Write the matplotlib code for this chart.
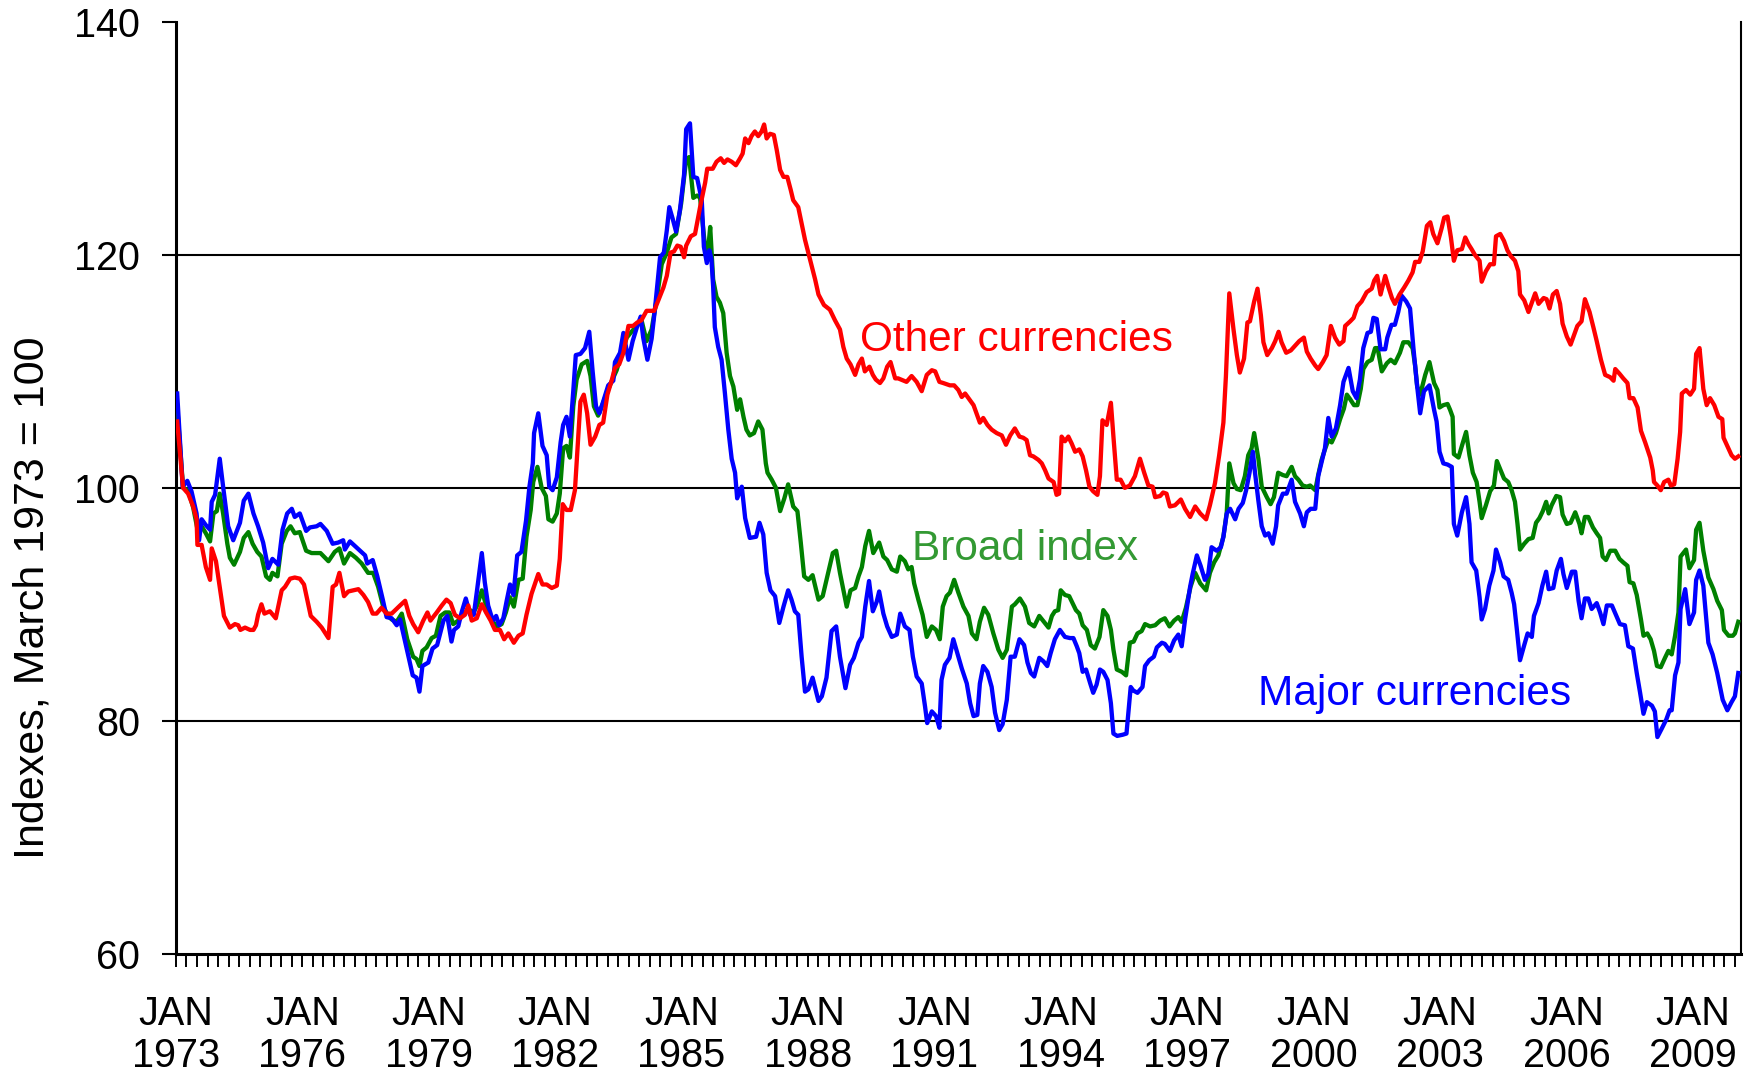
import matplotlib
matplotlib.use("Agg")
import matplotlib.pyplot as plt
import numpy as np

plt.rcParams["font.family"] = ["Liberation Sans", "DejaVu Sans"]

# Major currencies (blue): (year, index)
major_t = [
    1973.03, 1973.16, 1973.27, 1973.37, 1973.49, 1973.55, 1973.61, 1973.71, 1973.81, 1973.85,
    1973.93, 1974.04, 1974.12, 1974.24, 1974.36, 1974.52, 1974.61, 1974.72, 1974.84, 1974.95,
    1975.07, 1975.19, 1975.29, 1975.43, 1975.53, 1975.64, 1975.75, 1975.82, 1975.94, 1976.09,
    1976.18, 1976.34, 1976.43, 1976.58, 1976.72, 1976.85, 1976.97, 1977.01, 1977.13, 1977.25,
    1977.37, 1977.49, 1977.54, 1977.67, 1977.78, 1977.91, 1978.00, 1978.12, 1978.24, 1978.32,
    1978.49, 1978.62, 1978.71, 1978.78, 1978.85, 1978.99, 1979.09, 1979.20, 1979.35, 1979.44,
    1979.54, 1979.60, 1979.70, 1979.78, 1979.88, 1979.98, 1980.07, 1980.15, 1980.26, 1980.33,
    1980.41, 1980.52, 1980.60, 1980.67, 1980.77, 1980.85, 1980.93, 1981.01, 1981.10, 1981.20,
    1981.31, 1981.39, 1981.47, 1981.50, 1981.60, 1981.70, 1981.80, 1981.86, 1981.94, 1982.04,
    1982.13, 1982.19, 1982.27, 1982.35, 1982.43, 1982.49, 1982.60, 1982.71, 1982.81, 1982.89,
    1982.97, 1983.05, 1983.14, 1983.26, 1983.38, 1983.42, 1983.54, 1983.62, 1983.74, 1983.84,
    1983.95, 1984.03, 1984.09, 1984.19, 1984.29, 1984.37, 1984.49, 1984.58, 1984.65, 1984.71,
    1984.79, 1984.87, 1984.96, 1985.06, 1985.11, 1985.20, 1985.28, 1985.37, 1985.44, 1985.48,
    1985.53, 1985.60, 1985.66, 1985.71, 1985.75, 1985.79, 1985.87, 1985.95, 1986.03, 1986.11,
    1986.19, 1986.27, 1986.32, 1986.43, 1986.51, 1986.62, 1986.77, 1986.85, 1986.94, 1987.02,
    1987.11, 1987.22, 1987.32, 1987.42, 1987.53, 1987.61, 1987.69, 1987.77, 1987.85, 1987.93,
    1988.01, 1988.11, 1988.25, 1988.33, 1988.44, 1988.56, 1988.67, 1988.76, 1988.89, 1989.00,
    1989.09, 1989.20, 1989.28, 1989.36, 1989.45, 1989.54, 1989.63, 1989.69, 1989.79, 1989.88,
    1989.99, 1990.11, 1990.19, 1990.30, 1990.41, 1990.49, 1990.58, 1990.70, 1990.78, 1990.83,
    1990.94, 1991.04, 1991.12, 1991.17, 1991.25, 1991.36, 1991.45, 1991.53, 1991.65, 1991.77,
    1991.85, 1991.93, 1992.02, 1992.08, 1992.16, 1992.26, 1992.36, 1992.44, 1992.54, 1992.62,
    1992.72, 1992.81, 1992.91, 1993.02, 1993.13, 1993.21, 1993.29, 1993.37, 1993.49, 1993.59,
    1993.68, 1993.76, 1993.86, 1993.98, 1994.10, 1994.22, 1994.30, 1994.38, 1994.44, 1994.52,
    1994.60, 1994.70, 1994.77, 1994.85, 1994.93, 1995.01, 1995.11, 1995.19, 1995.25, 1995.34,
    1995.47, 1995.56, 1995.66, 1995.72, 1995.82, 1995.94, 1996.00, 1996.10, 1996.21, 1996.28,
    1996.40, 1996.47, 1996.59, 1996.69, 1996.79, 1996.87, 1996.95, 1997.07, 1997.13, 1997.23,
    1997.32, 1997.42, 1997.50, 1997.58, 1997.70, 1997.80, 1997.86, 1997.94, 1998.02, 1998.14,
    1998.22, 1998.32, 1998.40, 1998.48, 1998.56, 1998.61, 1998.69, 1998.77, 1998.85, 1998.93,
    1999.03, 1999.11, 1999.16, 1999.27, 1999.36, 1999.48, 1999.56, 1999.68, 1999.77, 1999.84,
    1999.93, 2000.04, 2000.11, 2000.19, 2000.27, 2000.35, 2000.43, 2000.53, 2000.63, 2000.71,
    2000.83, 2000.93, 2001.02, 2001.10, 2001.18, 2001.28, 2001.36, 2001.42, 2001.50, 2001.59,
    2001.70, 2001.75, 2001.85, 2001.93, 2002.01, 2002.09, 2002.20, 2002.29, 2002.37, 2002.45,
    2002.53, 2002.62, 2002.75, 2002.86, 2002.92, 2002.99, 2003.08, 2003.18, 2003.28, 2003.33,
    2003.41, 2003.52, 2003.62, 2003.70, 2003.75, 2003.86, 2003.94, 2003.99, 2004.07, 2004.17,
    2004.27, 2004.33, 2004.43, 2004.51, 2004.62, 2004.70, 2004.76, 2004.82, 2004.90, 2005.00,
    2005.08, 2005.18, 2005.23, 2005.34, 2005.43, 2005.52, 2005.58, 2005.69, 2005.77, 2005.87,
    2005.93, 2006.01, 2006.13, 2006.21, 2006.29, 2006.36, 2006.44, 2006.52, 2006.60, 2006.72,
    2006.80, 2006.88, 2006.96, 2007.08, 2007.20, 2007.27, 2007.39, 2007.47, 2007.58, 2007.67,
    2007.75, 2007.83, 2007.91, 2008.03, 2008.10, 2008.16, 2008.26, 2008.37, 2008.45, 2008.50,
    2008.58, 2008.66, 2008.71, 2008.82, 2008.92, 2009.03, 2009.08, 2009.16, 2009.25, 2009.37,
    2009.47, 2009.58, 2009.71, 2009.82, 2009.92, 2010.00, 2010.08,
]
major_v = [
    108.1, 100.1, 100.6, 99.7, 97.8, 95.5, 97.3, 96.8, 96.4, 98.8,
    99.4, 102.5, 100.1, 96.7, 95.5, 97.0, 98.9, 99.5, 97.8, 96.7,
    95.3, 93.1, 93.9, 93.4, 96.4, 97.8, 98.2, 97.5, 97.8, 96.3,
    96.6, 96.7, 96.9, 96.3, 95.2, 95.3, 95.5, 94.7, 95.4, 95.0,
    94.6, 94.2, 93.5, 93.8, 92.4, 90.4, 88.9, 88.8, 88.2, 88.7,
    86.0, 83.9, 83.7, 82.5, 84.7, 85.0, 86.2, 86.5, 88.6, 89.0,
    86.8, 87.8, 88.1, 89.3, 90.5, 89.1, 89.1, 91.3, 94.4, 91.9,
    89.9, 88.6, 89.0, 88.2, 88.8, 90.3, 91.7, 90.8, 94.2, 94.5,
    97.2, 100.1, 102.1, 104.7, 106.4, 103.6, 102.8, 100.1, 99.8, 100.9,
    103.9, 105.4, 106.1, 104.4, 108.3, 111.4, 111.5, 112.0, 113.4, 110.0,
    107.0, 106.4, 107.4, 108.8, 109.2, 110.8, 111.6, 113.3, 111.0, 112.6,
    113.9, 114.7, 112.9, 111.0, 112.8, 115.4, 119.8, 120.2, 122.1, 124.1,
    123.1, 122.0, 123.8, 126.9, 130.8, 131.3, 126.7, 126.6, 125.4, 124.7,
    120.7, 119.3, 120.4, 119.6, 117.3, 113.8, 112.1, 111.0, 108.1, 105.0,
    102.5, 101.3, 99.1, 100.1, 97.4, 95.7, 95.8, 97.0, 96.0, 92.7,
    91.2, 90.7, 88.4, 89.8, 91.2, 90.4, 89.4, 89.1, 85.5, 82.5,
    82.7, 83.7, 81.7, 82.1, 83.7, 87.7, 88.1, 85.5, 82.8, 84.8,
    85.4, 86.7, 87.2, 89.8, 92.0, 89.4, 90.2, 91.1, 89.2, 88.1,
    87.2, 87.4, 89.2, 88.1, 87.8, 85.5, 83.8, 83.2, 81.2, 79.8,
    80.8, 80.4, 79.4, 83.5, 84.8, 85.4, 87.0, 86.0, 84.5, 83.2,
    81.5, 80.4, 80.5, 83.2, 84.7, 84.2, 82.9, 80.7, 79.2, 79.7,
    81.8, 85.5, 85.5, 87.0, 86.5, 85.0, 84.1, 83.8, 85.4, 85.1,
    84.7, 85.8, 87.0, 87.8, 87.2, 87.1, 87.1, 86.4, 85.8, 84.2,
    84.4, 83.2, 82.4, 83.1, 84.4, 84.2, 83.5, 81.5, 78.9, 78.7,
    78.8, 78.9, 82.9, 82.6, 82.4, 82.9, 84.7, 85.2, 85.5, 86.3,
    86.7, 86.6, 86.0, 86.9, 87.4, 86.4, 88.7, 91.5, 92.6, 94.2,
    93.3, 92.1, 92.6, 94.9, 94.6, 94.9, 95.8, 97.8, 98.2, 97.3,
    98.2, 98.7, 99.8, 101.3, 103.1, 101.3, 98.9, 96.7, 95.9, 96.1,
    95.2, 96.7, 98.5, 99.5, 99.5, 100.7, 98.8, 97.8, 96.7, 97.9,
    98.2, 98.2, 101.0, 102.2, 103.4, 106.0, 104.4, 105.1, 107.1, 109.1,
    110.3, 108.3, 107.7, 109.3, 112.0, 113.3, 113.4, 114.6, 114.5, 111.9,
    111.9, 112.9, 114.0, 114.0, 115.1, 116.5, 116.0, 115.4, 112.0, 109.0,
    106.4, 108.3, 108.8, 106.7, 105.7, 103.1, 102.1, 102.0, 101.8, 96.9,
    95.9, 97.9, 99.2, 96.9, 93.6, 92.9, 90.6, 88.7, 89.6, 91.6,
    92.9, 94.7, 93.6, 92.4, 92.1, 91.0, 90.0, 88.0, 85.2, 86.5,
    87.5, 87.2, 89.0, 90.1, 91.6, 92.8, 91.3, 91.4, 92.9, 93.9,
    92.6, 91.4, 92.8, 92.8, 90.3, 88.8, 90.5, 90.5, 89.6, 90.1,
    89.3, 88.3, 89.9, 89.9, 88.9, 88.3, 88.2, 86.4, 86.2, 84.1,
    82.4, 80.6, 81.6, 81.3, 80.8, 78.6, 79.3, 80.1, 80.9, 80.9,
    83.9, 85.0, 89.6, 91.3, 88.3, 89.3, 92.1, 92.9, 91.6, 86.7,
    85.7, 84.1, 81.8, 80.9, 81.6, 82.1, 84.1,
]

# Broad index (green)
broad_t = [
    1973.03, 1973.17, 1973.29, 1973.41, 1973.53, 1973.61, 1973.71, 1973.81, 1973.89, 1973.97,
    1974.04, 1974.12, 1974.22, 1974.28, 1974.38, 1974.52, 1974.61, 1974.72, 1974.82, 1974.93,
    1975.03, 1975.14, 1975.23, 1975.29, 1975.41, 1975.51, 1975.63, 1975.72, 1975.82, 1975.94,
    1976.09, 1976.22, 1976.43, 1976.62, 1976.77, 1976.88, 1976.99, 1977.13, 1977.27, 1977.41,
    1977.56, 1977.68, 1977.80, 1977.92, 1978.04, 1978.12, 1978.24, 1978.36, 1978.49, 1978.63,
    1978.71, 1978.78, 1978.85, 1978.95, 1979.07, 1979.17, 1979.28, 1979.39, 1979.49, 1979.58,
    1979.70, 1979.82, 1979.94, 1980.06, 1980.15, 1980.26, 1980.33, 1980.41, 1980.52, 1980.63,
    1980.73, 1980.83, 1980.93, 1981.02, 1981.13, 1981.23, 1981.32, 1981.42, 1981.48, 1981.58,
    1981.68, 1981.78, 1981.84, 1981.94, 1982.04, 1982.11, 1982.19, 1982.27, 1982.35, 1982.43,
    1982.51, 1982.63, 1982.76, 1982.84, 1982.92, 1983.02, 1983.13, 1983.24, 1983.36, 1983.46,
    1983.58, 1983.70, 1983.79, 1983.93, 1984.05, 1984.17, 1984.29, 1984.41, 1984.53, 1984.65,
    1984.76, 1984.87, 1984.99, 1985.11, 1985.18, 1985.28, 1985.37, 1985.44, 1985.55, 1985.62,
    1985.68, 1985.75, 1985.83, 1985.91, 1985.99, 1986.07, 1986.15, 1986.23, 1986.32, 1986.39,
    1986.47, 1986.54, 1986.62, 1986.72, 1986.82, 1986.92, 1987.00, 1987.04, 1987.14, 1987.24,
    1987.34, 1987.44, 1987.53, 1987.65, 1987.75, 1987.83, 1987.91, 1988.01, 1988.11, 1988.25,
    1988.35, 1988.48, 1988.59, 1988.67, 1988.76, 1988.92, 1989.01, 1989.12, 1989.20, 1989.28,
    1989.36, 1989.45, 1989.55, 1989.69, 1989.79, 1989.88, 1989.99, 1990.11, 1990.19, 1990.30,
    1990.38, 1990.46, 1990.52, 1990.62, 1990.72, 1990.82, 1990.94, 1991.04, 1991.13, 1991.20,
    1991.29, 1991.37, 1991.47, 1991.57, 1991.69, 1991.81, 1991.89, 1992.00, 1992.08, 1992.18,
    1992.28, 1992.40, 1992.52, 1992.62, 1992.72, 1992.84, 1992.91, 1993.03, 1993.15, 1993.25,
    1993.37, 1993.49, 1993.60, 1993.71, 1993.79, 1993.86, 1993.94, 1994.00, 1994.10, 1994.20,
    1994.28, 1994.36, 1994.44, 1994.52, 1994.62, 1994.71, 1994.81, 1994.92, 1995.01, 1995.11,
    1995.19, 1995.25, 1995.33, 1995.45, 1995.55, 1995.64, 1995.73, 1995.82, 1995.92, 1996.00,
    1996.12, 1996.24, 1996.36, 1996.47, 1996.58, 1996.69, 1996.79, 1996.87, 1996.97, 1997.08,
    1997.19, 1997.31, 1997.45, 1997.54, 1997.64, 1997.74, 1997.86, 1997.94, 1998.00, 1998.10,
    1998.18, 1998.27, 1998.37, 1998.45, 1998.53, 1998.59, 1998.69, 1998.77, 1998.89, 1998.98,
    1999.06, 1999.16, 1999.27, 1999.36, 1999.48, 1999.56, 1999.64, 1999.74, 1999.84, 1999.92,
    2000.04, 2000.11, 2000.19, 2000.27, 2000.35, 2000.43, 2000.53, 2000.63, 2000.72, 2000.79,
    2000.87, 2000.96, 2001.04, 2001.12, 2001.18, 2001.28, 2001.38, 2001.46, 2001.52, 2001.62,
    2001.74, 2001.83, 2001.93, 2002.05, 2002.13, 2002.25, 2002.35, 2002.41, 2002.46, 2002.53,
    2002.65, 2002.75, 2002.86, 2002.94, 2002.99, 2003.08, 2003.18, 2003.24, 2003.30, 2003.33,
    2003.44, 2003.52, 2003.62, 2003.70, 2003.78, 2003.87, 2003.94, 2003.99, 2004.09, 2004.19,
    2004.28, 2004.35, 2004.43, 2004.52, 2004.62, 2004.70, 2004.78, 2004.84, 2004.90, 2005.00,
    2005.10, 2005.20, 2005.28, 2005.36, 2005.44, 2005.52, 2005.58, 2005.65, 2005.76, 2005.85,
    2005.91, 2006.01, 2006.10, 2006.21, 2006.31, 2006.36, 2006.44, 2006.52, 2006.63, 2006.72,
    2006.80, 2006.86, 2006.94, 2007.04, 2007.16, 2007.26, 2007.35, 2007.45, 2007.50, 2007.59,
    2007.67, 2007.77, 2007.83, 2007.92, 2008.00, 2008.08, 2008.15, 2008.24, 2008.34, 2008.42,
    2008.50, 2008.58, 2008.66, 2008.71, 2008.84, 2008.92, 2009.03, 2009.08, 2009.16, 2009.25,
    2009.37, 2009.49, 2009.58, 2009.69, 2009.74, 2009.85, 2009.95, 2010.00, 2010.08,
]
broad_v = [
    107.0, 100.0, 99.8, 98.3, 96.1, 96.7, 96.1, 95.4, 97.8, 98.0,
    99.5, 97.8, 95.2, 94.0, 93.4, 94.5, 95.7, 96.2, 95.2, 94.5,
    94.1, 92.4, 92.1, 92.7, 92.4, 95.2, 96.3, 96.7, 96.1, 96.2,
    94.6, 94.4, 94.4, 93.7, 94.5, 94.8, 93.5, 94.4, 94.0, 93.5,
    92.7, 92.7, 91.5, 89.8, 89.0, 88.7, 88.5, 89.2, 87.0, 85.5,
    85.3, 84.7, 86.0, 86.3, 87.1, 87.3, 89.0, 89.3, 89.3, 88.3,
    88.6, 89.1, 89.6, 89.3, 89.9, 91.2, 90.3, 89.3, 88.5, 88.1,
    88.3, 89.3, 90.6, 89.8, 92.1, 92.2, 95.8, 98.1, 100.5, 101.8,
    100.0, 99.3, 97.3, 97.1, 97.8, 99.5, 103.4, 103.6, 102.6, 107.0,
    109.3, 110.6, 110.9, 109.6, 107.0, 106.2, 107.2, 108.3, 109.3, 110.1,
    111.6, 112.9, 113.3, 113.9, 114.4, 112.6, 113.6, 116.2, 119.2, 120.2,
    121.5, 121.8, 124.4, 128.2, 128.4, 124.9, 125.1, 124.9, 121.0, 120.0,
    122.4, 117.9, 116.4, 115.9, 115.0, 111.6, 109.6, 108.7, 106.7, 107.6,
    106.1, 105.0, 104.5, 104.7, 105.7, 105.0, 102.1, 101.3, 100.7, 100.0,
    98.0, 99.1, 100.3, 98.4, 98.0, 95.3, 92.4, 92.1, 92.5, 90.4,
    90.7, 92.7, 94.4, 94.6, 92.7, 89.8, 91.2, 91.4, 92.4, 93.2,
    95.0, 96.3, 94.4, 95.3, 94.1, 93.8, 93.0, 92.8, 94.1, 93.7,
    93.0, 93.2, 91.8, 90.4, 89.1, 87.2, 88.1, 87.8, 87.0, 89.8,
    90.7, 91.0, 92.1, 91.0, 89.8, 89.0, 87.5, 87.0, 88.5, 89.7,
    89.1, 87.5, 86.1, 85.4, 86.1, 89.8, 90.0, 90.5, 89.8, 88.4,
    88.1, 89.0, 88.5, 88.0, 89.0, 89.4, 89.5, 91.2, 90.8, 90.7,
    90.1, 89.5, 89.2, 88.2, 87.8, 86.5, 86.2, 87.2, 89.5, 89.0,
    87.8, 86.1, 84.4, 84.2, 83.9, 86.7, 86.8, 87.5, 87.7, 88.3,
    88.1, 88.2, 88.6, 88.8, 88.1, 88.6, 88.9, 88.5, 89.7, 91.5,
    92.7, 91.8, 91.2, 92.7, 93.6, 94.2, 95.8, 97.9, 102.1, 100.4,
    99.9, 99.8, 101.0, 102.8, 103.4, 104.7, 102.5, 100.1, 99.2, 98.6,
    99.2, 101.3, 101.1, 101.0, 101.8, 101.0, 100.7, 100.2, 100.1, 100.2,
    99.8, 101.1, 102.4, 103.3, 104.1, 103.9, 104.7, 105.9, 106.8, 108.0,
    107.6, 107.1, 107.1, 108.5, 110.2, 110.8, 111.0, 112.0, 112.0, 110.0,
    110.7, 111.0, 110.7, 111.6, 112.5, 112.5, 112.0, 110.5, 108.7, 108.0,
    109.7, 110.8, 109.0, 108.4, 106.9, 107.1, 107.2, 106.7, 106.1, 102.9,
    102.6, 103.6, 104.8, 102.8, 101.3, 100.5, 98.8, 97.4, 98.5, 99.7,
    100.2, 102.3, 101.6, 100.8, 100.5, 99.8, 98.8, 96.9, 94.7, 95.2,
    95.6, 95.7, 97.0, 97.4, 98.0, 98.8, 97.8, 98.5, 99.3, 99.2,
    97.7, 96.9, 97.0, 97.9, 96.9, 96.1, 97.5, 97.5, 96.6, 96.1,
    95.7, 94.1, 93.8, 94.6, 94.6, 93.9, 93.6, 93.3, 91.9, 91.8,
    90.8, 88.7, 87.3, 87.5, 87.0, 86.0, 84.7, 84.6, 85.4, 86.0,
    85.7, 87.3, 89.3, 94.1, 94.7, 93.1, 93.8, 96.4, 97.0, 94.6,
    92.3, 91.3, 90.3, 89.5, 87.8, 87.3, 87.3, 87.5, 88.5,
]

# Other important trading partners (red)
other_t = [
    1973.03, 1973.17, 1973.29, 1973.41, 1973.49, 1973.51, 1973.61, 1973.71, 1973.81, 1973.85,
    1973.95, 1974.04, 1974.14, 1974.28, 1974.40, 1974.48, 1974.53, 1974.64, 1974.76, 1974.84,
    1974.90, 1974.95, 1975.03, 1975.10, 1975.23, 1975.37, 1975.51, 1975.59, 1975.71, 1975.82,
    1975.94, 1976.04, 1976.10, 1976.20, 1976.34, 1976.46, 1976.62, 1976.72, 1976.80, 1976.88,
    1976.99, 1977.09, 1977.21, 1977.33, 1977.45, 1977.56, 1977.67, 1977.76, 1977.88, 1978.00,
    1978.12, 1978.32, 1978.44, 1978.54, 1978.63, 1978.75, 1978.87, 1978.97, 1979.04, 1979.19,
    1979.31, 1979.42, 1979.52, 1979.62, 1979.74, 1979.86, 1979.94, 1980.02, 1980.14, 1980.26,
    1980.36, 1980.47, 1980.57, 1980.69, 1980.79, 1980.89, 1981.02, 1981.13, 1981.23, 1981.32,
    1981.44, 1981.60, 1981.70, 1981.80, 1981.92, 1982.04, 1982.11, 1982.18, 1982.27, 1982.37,
    1982.47, 1982.55, 1982.60, 1982.68, 1982.76, 1982.84, 1982.95, 1983.05, 1983.14, 1983.24,
    1983.34, 1983.42, 1983.52, 1983.62, 1983.74, 1983.85, 1983.95, 1984.05, 1984.17, 1984.35,
    1984.45, 1984.57, 1984.65, 1984.74, 1984.82, 1984.90, 1984.98, 1985.06, 1985.11, 1985.22,
    1985.32, 1985.44, 1985.56, 1985.61, 1985.74, 1985.83, 1985.93, 1986.01, 1986.09, 1986.19,
    1986.29, 1986.39, 1986.45, 1986.51, 1986.59, 1986.66, 1986.74, 1986.82, 1986.90, 1986.96,
    1987.02, 1987.10, 1987.19, 1987.26, 1987.34, 1987.42, 1987.51, 1987.59, 1987.65, 1987.77,
    1987.85, 1987.93, 1988.05, 1988.17, 1988.25, 1988.38, 1988.52, 1988.64, 1988.76, 1988.84,
    1988.92, 1989.01, 1989.12, 1989.20, 1989.28, 1989.35, 1989.46, 1989.54, 1989.61, 1989.71,
    1989.79, 1989.88, 1989.96, 1990.07, 1990.14, 1990.34, 1990.46, 1990.58, 1990.70, 1990.82,
    1990.94, 1991.02, 1991.12, 1991.21, 1991.37, 1991.47, 1991.57, 1991.65, 1991.73, 1991.83,
    1991.93, 1992.00, 1992.08, 1992.16, 1992.26, 1992.36, 1992.48, 1992.60, 1992.70, 1992.80,
    1992.91, 1993.02, 1993.11, 1993.19, 1993.27, 1993.35, 1993.47, 1993.55, 1993.63, 1993.71,
    1993.83, 1993.90, 1993.96, 1994.02, 1994.10, 1994.18, 1994.26, 1994.34, 1994.44, 1994.52,
    1994.60, 1994.68, 1994.77, 1994.87, 1994.93, 1994.99, 1995.09, 1995.19, 1995.25, 1995.33,
    1995.42, 1995.52, 1995.64, 1995.76, 1995.88, 1995.98, 1996.08, 1996.18, 1996.24, 1996.36,
    1996.43, 1996.51, 1996.59, 1996.71, 1996.85, 1996.95, 1997.07, 1997.19, 1997.31, 1997.45,
    1997.54, 1997.66, 1997.76, 1997.86, 1997.92, 1998.00, 1998.10, 1998.18, 1998.25, 1998.35,
    1998.43, 1998.49, 1998.59, 1998.67, 1998.75, 1998.81, 1998.90, 1999.01, 1999.09, 1999.17,
    1999.24, 1999.35, 1999.46, 1999.56, 1999.66, 1999.77, 1999.84, 1999.93, 2000.04, 2000.11,
    2000.22, 2000.31, 2000.41, 2000.51, 2000.61, 2000.71, 2000.75, 2000.87, 2000.95, 2001.04,
    2001.14, 2001.26, 2001.38, 2001.44, 2001.51, 2001.59, 2001.70, 2001.78, 2001.86, 2001.93,
    2002.04, 2002.15, 2002.25, 2002.35, 2002.41, 2002.51, 2002.59, 2002.69, 2002.77, 2002.84,
    2002.94, 2003.04, 2003.10, 2003.18, 2003.26, 2003.33, 2003.41, 2003.52, 2003.60, 2003.68,
    2003.75, 2003.83, 2003.94, 2003.99, 2004.09, 2004.19, 2004.28, 2004.33, 2004.43, 2004.52,
    2004.60, 2004.68, 2004.78, 2004.86, 2004.90, 2005.00, 2005.10, 2005.18, 2005.26, 2005.34,
    2005.46, 2005.53, 2005.60, 2005.68, 2005.77, 2005.85, 2005.91, 2006.01, 2006.10, 2006.18,
    2006.26, 2006.36, 2006.44, 2006.55, 2006.64, 2006.72, 2006.82, 2006.92, 2007.04, 2007.12,
    2007.16, 2007.26, 2007.35, 2007.45, 2007.50, 2007.59, 2007.69, 2007.77, 2007.87, 2007.99,
    2008.05, 2008.08, 2008.16, 2008.24, 2008.32, 2008.42, 2008.48, 2008.56, 2008.64, 2008.70,
    2008.74, 2008.84, 2008.94, 2009.03, 2009.08, 2009.16, 2009.25, 2009.33, 2009.41, 2009.51,
    2009.61, 2009.70, 2009.73, 2009.82, 2009.92, 2010.00, 2010.08,
]
other_v = [
    105.7, 100.0, 99.5, 98.4, 97.3, 95.1, 95.1, 93.2, 92.1, 94.8,
    93.7, 91.5, 89.0, 88.0, 88.3, 88.2, 87.8, 88.0, 87.8, 87.8,
    88.2, 89.1, 90.0, 89.2, 89.4, 88.8, 91.2, 91.5, 92.2, 92.3,
    92.2, 91.7, 90.7, 89.0, 88.5, 88.0, 87.1, 91.5, 91.7, 92.7,
    90.7, 91.1, 91.2, 91.3, 90.8, 90.2, 89.2, 89.2, 89.7, 89.2,
    89.2, 89.9, 90.3, 89.0, 88.3, 87.6, 88.6, 89.3, 88.6, 89.3,
    89.9, 90.4, 90.1, 89.1, 88.8, 89.1, 89.9, 88.6, 88.8, 90.0,
    89.3, 88.6, 87.8, 87.8, 87.0, 87.5, 86.7, 87.3, 87.5, 89.1,
    90.9, 92.6, 91.7, 91.7, 91.4, 91.6, 93.9, 98.6, 98.1, 98.1,
    99.8, 104.4, 107.4, 108.0, 106.4, 103.7, 104.4, 105.4, 105.6, 108.0,
    109.2, 110.3, 110.6, 111.6, 113.9, 113.9, 114.2, 114.4, 115.2, 115.2,
    116.1, 117.2, 118.2, 120.2, 120.3, 120.8, 120.7, 119.8, 120.8, 121.6,
    121.8, 124.1, 126.2, 127.4, 127.4, 128.0, 128.3, 127.9, 128.2, 128.0,
    127.7, 128.3, 128.7, 130.0, 129.6, 130.2, 130.6, 130.2, 130.6, 131.2,
    130.0, 130.4, 130.3, 129.0, 127.3, 126.7, 126.7, 125.6, 124.7, 124.1,
    122.7, 121.3, 119.6, 117.9, 116.6, 115.7, 115.3, 114.4, 113.6, 112.1,
    111.1, 110.6, 109.7, 110.6, 111.1, 110.0, 110.4, 109.7, 109.3, 109.0,
    109.4, 110.4, 110.8, 109.4, 109.4, 109.1, 109.6, 109.1, 108.3, 109.7,
    110.1, 110.0, 109.1, 109.0, 108.8, 108.8, 108.4, 107.8, 108.1, 107.6,
    107.1, 106.4, 105.6, 106.0, 105.4, 105.0, 104.7, 104.5, 103.7, 104.5,
    105.1, 104.4, 104.3, 104.1, 102.8, 102.7, 102.4, 102.1, 101.5, 100.8,
    100.5, 99.4, 99.5, 104.4, 104.0, 104.4, 103.8, 103.1, 103.3, 102.7,
    101.5, 100.1, 99.7, 99.4, 101.0, 105.8, 105.4, 107.3, 104.4, 100.7,
    100.7, 100.0, 100.2, 101.0, 102.5, 101.3, 100.2, 100.1, 99.2, 99.3,
    99.6, 99.5, 98.4, 98.5, 99.0, 98.2, 97.5, 98.4, 97.8, 97.3,
    98.5, 100.4, 102.8, 105.6, 109.6, 116.7, 113.6, 111.4, 109.9, 111.1,
    114.2, 114.3, 116.0, 117.1, 114.8, 112.5, 111.4, 112.0, 112.6, 113.4,
    112.5, 111.6, 111.8, 112.2, 112.6, 112.9, 111.7, 111.1, 110.5, 110.2,
    110.8, 111.4, 113.9, 112.9, 112.3, 112.6, 113.9, 114.3, 114.6, 115.6,
    116.0, 116.8, 117.1, 117.8, 118.2, 116.6, 118.2, 117.2, 116.3, 115.8,
    116.6, 117.2, 117.8, 118.5, 119.4, 119.4, 120.3, 122.5, 122.8, 121.8,
    121.0, 122.3, 123.2, 123.3, 121.5, 119.5, 120.4, 120.5, 121.5, 120.9,
    120.5, 120.0, 119.5, 117.7, 118.6, 119.2, 119.2, 121.6, 121.8, 121.2,
    120.4, 119.9, 119.5, 118.6, 116.6, 116.1, 115.1, 115.9, 116.7, 115.8,
    116.3, 116.2, 115.4, 116.6, 116.9, 115.8, 114.1, 113.0, 112.3, 113.1,
    113.9, 114.3, 116.2, 115.1, 113.8, 112.6, 111.0, 109.7, 109.5, 109.2,
    110.2, 109.8, 109.4, 109.0, 107.7, 107.7, 106.9, 104.9, 103.9, 102.6,
    101.5, 100.5, 100.2, 99.8, 100.5, 100.7, 100.2, 100.3, 102.5, 104.8,
    108.1, 108.4, 108.0, 108.5, 111.5, 112.0, 108.5, 107.1, 107.7, 107.1,
    106.1, 105.9, 104.3, 103.6, 102.8, 102.5, 102.7,
]

label_years = list(range(1973, 2010, 3))
y_ticks = [60, 80, 100, 120, 140]

fig = plt.figure(figsize=(17.47, 10.73), dpi=100)
ax = fig.add_axes([0.1007, 0.1112, 0.8960, 0.8683])

for y in [80, 100, 120]:
    ax.axhline(y, color="black", lw=1.5, zorder=1)

ax.plot(broad_t, broad_v, color="#008000", lw=3.1, zorder=3)
ax.plot(major_t, major_v, color="#0000ff", lw=3.1, zorder=4)
ax.plot(other_t, other_v, color="#ff0000", lw=3.1, zorder=5)

ax.text(1992.94, 111.76, "Other currencies", color="#ff0000", fontsize=30.5,
        ha="center", va="baseline")
ax.text(1993.15, 93.78, "Broad index", color="#339933", fontsize=30.5,
        ha="center", va="baseline")
ax.text(2002.40, 81.37, "Major currencies", color="#0000ff", fontsize=30.5,
        ha="center", va="baseline")

ax.set_xlim(1973.0, 2010.15)
ax.set_ylim(60, 140)

ax.set_xticks(label_years)
ax.set_xticklabels(["JAN\n%d" % y for y in label_years], fontsize=28.5, linespacing=1.15)
ax.set_xticks(np.arange(1973.0, 2010.1, 0.25), minor=True)
ax.tick_params(axis="x", which="both", direction="out", length=9.5, width=1.4,
               pad=20)
ax.set_yticks(y_ticks)
ax.set_yticklabels([str(v) for v in y_ticks], fontsize=28.5)
ax.tick_params(axis="y", direction="out", length=10, width=1.5, pad=16)

ax.spines["top"].set_visible(False)
ax.spines["left"].set_linewidth(2.2)
ax.spines["bottom"].set_linewidth(2.2)
ax.spines["right"].set_linewidth(1.5)

fig.text(33 / 1747, 1 - 598 / 1073, "Indexes, March 1973 = 100", rotation=90,
         fontsize=31, ha="center", va="center")

fig.savefig("out.png", dpi=100)
